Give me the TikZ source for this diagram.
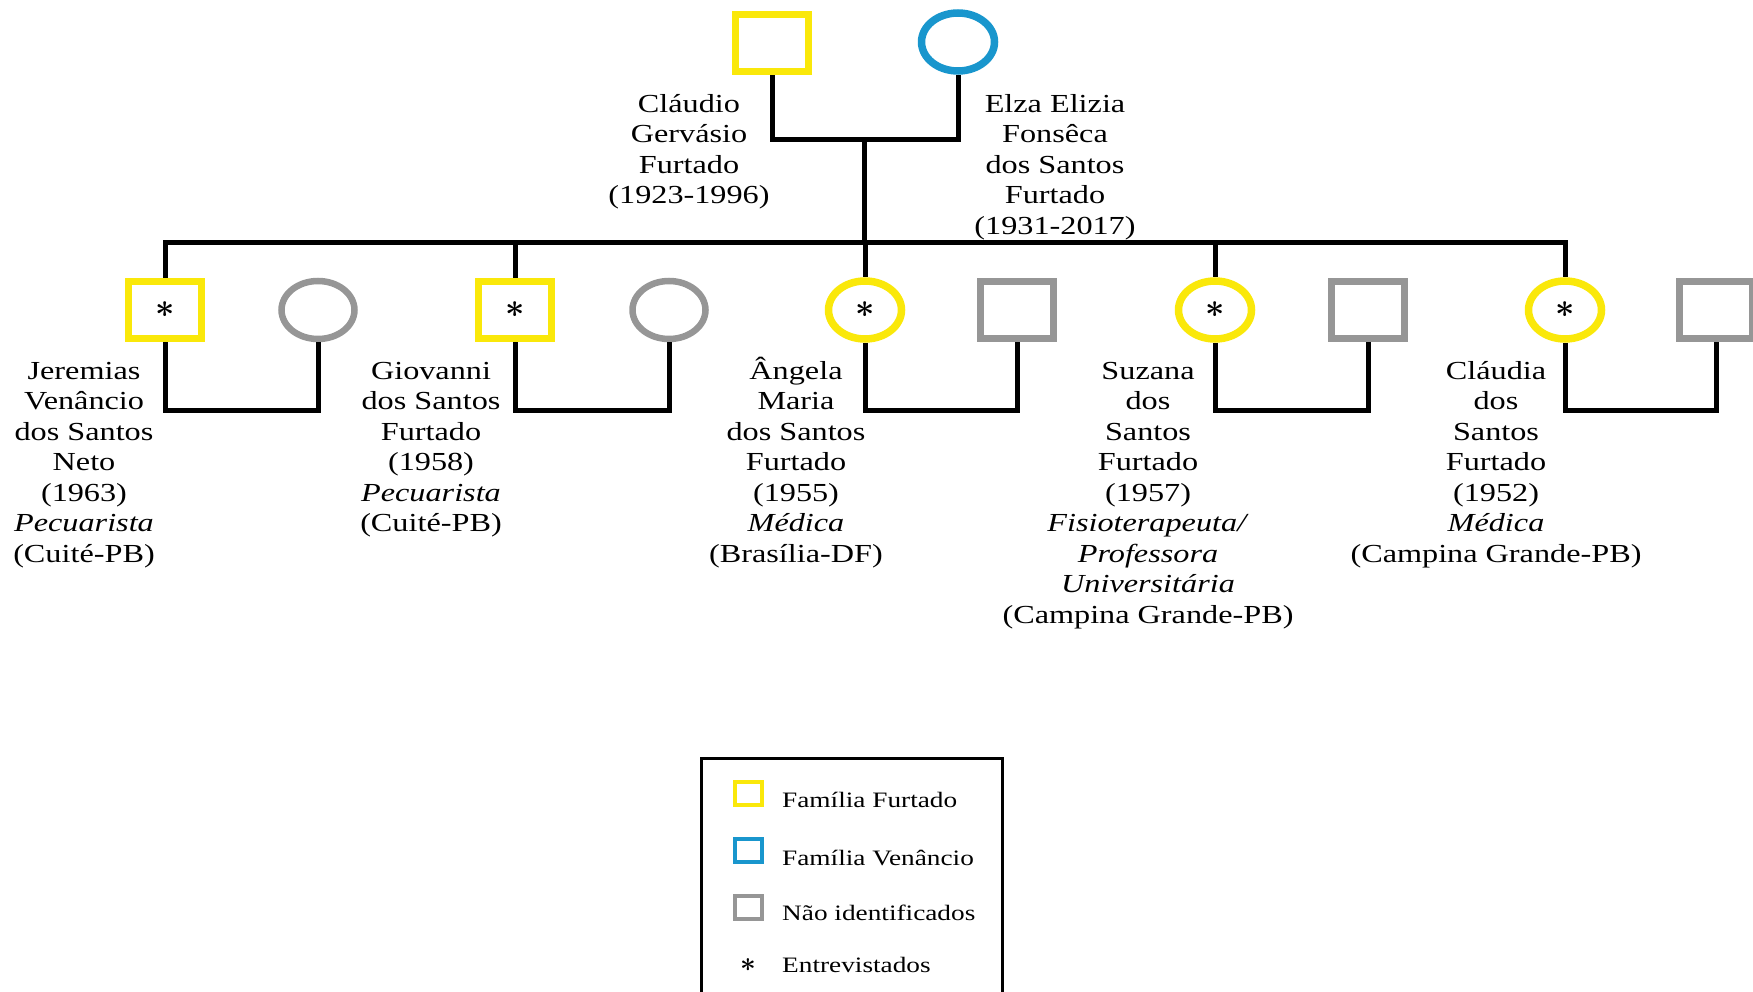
\documentclass[tikz,border=0pt]{standalone}
\usepackage{fontspec}
\usepackage{graphicx}
\setmainfont{Liberation Serif}[FakeStretch=1.24]
\usetikzlibrary{shapes.geometric}
\definecolor{furtado}{RGB}{250,232,10}
\definecolor{venancio}{RGB}{25,150,205}
\definecolor{naoid}{RGB}{150,150,150}
\newcommand{\firstline}{\rule{0pt}{24pt}}
\newcommand{\interviewed}[1]{\scalebox{#1}{\fontsize{24pt}{24pt}\selectfont\boldmath$\ast$}}
\begin{document}
\begin{tikzpicture}[x=1pt,y=-1pt,
  male/.style={rectangle, draw, line width=7.5pt, fill=white,
    minimum width=73pt, minimum height=57pt, inner sep=0pt},
  female/.style={ellipse, draw, line width=7.5pt, fill=white,
    minimum width=73pt, minimum height=58pt, inner sep=0pt},
  ff/.style={draw=furtado},
  fv/.style={draw=venancio},
  ni/.style={draw=naoid, line width=6.5pt},
  link/.style={line width=5pt, black},
  lbl/.style={align=center, anchor=north, inner sep=0pt,
    font=\fontsize{26pt}{30.5pt}\selectfont},
  lsq/.style={rectangle, draw, line width=4pt, minimum width=27pt,
    minimum height=23pt, inner sep=0pt},
  ltxt/.style={anchor=base west, inner sep=0pt,
    font=\fontsize{22pt}{26pt}\selectfont}]
\useasboundingbox (0,0) rectangle (1753,992);
\clip (0,0) rectangle (1753,992);

% parents
\node[male,ff] (claudio) at (772,43) {};
\node[female,fv] (elza) at (958,42) {};
\coordinate (mar) at (864,140);
\coordinate (sib) at (864,243);
\coordinate (sp) at (0,410);
\draw[link] (claudio.south) -- (claudio.south |- mar) -- (elza.south |- mar) -- (elza.south);
\draw[link] (mar) -- (sib);

% children
\node[male,ff] (c1) at (165,310) {\interviewed{1.35}};
\node[male,ff] (c2) at (515,310) {\interviewed{1.35}};
\node[female,ff] (c3) at (865,310) {\interviewed{1.35}};
\node[female,ff] (c4) at (1215,310) {\interviewed{1.35}};
\node[female,ff] (c5) at (1565,310) {\interviewed{1.35}};

% spouses
\node[female,ni] (s1) at (318,310) {};
\node[female,ni] (s2) at (669,310) {};
\node[male,ni] (s3) at (1017,310) {};
\node[male,ni] (s4) at (1368,310) {};
\node[male,ni] (s5) at (1716,310) {};

% sibship line
\draw[link] (c1.north) -- (c1.north |- sib) -- (c5.north |- sib) -- (c5.north);
\foreach \c in {c2,c3,c4} \draw[link] (\c.north |- sib) -- (\c.north);

% marriages
\foreach \c/\s in {c1/s1,c2/s2,c3/s3,c4/s4,c5/s5}
  \draw[link] (\c.south) -- (\c.south |- sp) -- (\s.south |- sp) -- (\s.south);

% names
\node[lbl] (lclaudio) at (689,88) {\firstline Cláudio\\Gervásio\\Furtado\\(1923-1996)};
\node[lbl] (lelza) at (1055,88) {\firstline Elza Elizia\\Fonsêca\\dos Santos\\Furtado\\(1931-2017)};
\node[lbl] (l1) at (84,355) {\firstline Jeremias\\Venâncio\\dos Santos\\Neto\\(1963)\\\textit{Pecuarista}\\(Cuité-PB)};
\node[lbl] (l2) at (431,355) {\firstline Giovanni\\dos Santos\\Furtado\\(1958)\\\textit{Pecuarista}\\(Cuité-PB)};
\node[lbl] (l3) at (796,355) {\firstline Ângela\\Maria\\dos Santos\\Furtado\\(1955)\\\textit{Médica}\\(Brasília-DF)};
\node[lbl] (l4) at (1148,355) {\firstline Suzana\\dos\\Santos\\Furtado\\(1957)\\\textit{Fisioterapeuta/}\\\textit{Professora}\\\textit{Universitária}\\(Campina Grande-PB)};
\node[lbl] (l5) at (1496,355) {\firstline Cláudia\\dos\\Santos\\Furtado\\(1952)\\\textit{Médica}\\(Campina Grande-PB)};

% legend
\draw[line width=3pt] (701,758) rectangle (1002,1010);
\node[lsq,draw=furtado] (kf) at (748,793) {};
\node[lsq,draw=venancio] (kv) at (748,850) {};
\node[lsq,draw=naoid] (kn) at (748,907) {};
\node[inner sep=0pt] (ke) at (748,965) {\interviewed{1.1}};
\node[ltxt] (tf) at (782,807) {Família Furtado};
\node[ltxt] (tv) at (782,865) {Família Venâncio};
\node[ltxt] (tn) at (782,920) {Não identificados};
\node[ltxt] (te) at (782,972) {Entrevistados};
\end{tikzpicture}
\end{document}
